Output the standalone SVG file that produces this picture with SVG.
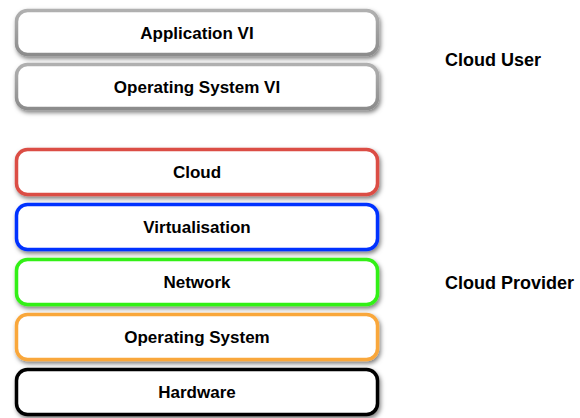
<svg xmlns="http://www.w3.org/2000/svg" width="580" height="418" viewBox="0 0 580 418">
<defs>
<filter id="sh" x="-5%" y="-20%" width="115%" height="150%">
<feDropShadow dx="1.5" dy="2.5" stdDeviation="2" flood-color="#000" flood-opacity="0.5"/>
</filter>
<linearGradient id="gg" x1="0" y1="0" x2="0" y2="1">
<stop offset="0" stop-color="#b0b0b0"/>
<stop offset="1" stop-color="#8c8c8c"/>
</linearGradient>
</defs>
<style>
rect.b{fill:#fff;stroke-width:3.5;filter:url(#sh)}
text{font-family:"Liberation Sans",Arial,sans-serif;font-weight:bold;fill:#000}
text.l{font-size:17px;text-anchor:middle}
text.s{font-size:18px}
</style>
<rect width="580" height="418" fill="#fff"/>
<g id="app-vi"><rect class="b" x="16.5" y="10.5" width="361" height="44" rx="11" stroke="url(#gg)"/><text class="l" x="197" y="39">Application VI</text></g>
<g id="os-vi"><rect class="b" x="16.5" y="64.5" width="361" height="44" rx="11" stroke="url(#gg)"/><text class="l" x="197" y="93">Operating System VI</text></g>
<g id="cloud"><rect class="b" x="16.5" y="149.5" width="361" height="45" rx="11" stroke="#db4d45"/><text class="l" x="197" y="178">Cloud</text></g>
<g id="virtualisation"><rect class="b" x="16.5" y="204.5" width="361" height="45" rx="11" stroke="#0433ff"/><text class="l" x="197" y="233">Virtualisation</text></g>
<g id="network"><rect class="b" x="16.5" y="259.5" width="361" height="45" rx="11" stroke="#33f016"/><text class="l" x="197" y="288">Network</text></g>
<g id="os"><rect class="b" x="16.5" y="314.5" width="361" height="45" rx="11" stroke="#f9a73b"/><text class="l" x="197" y="343">Operating System</text></g>
<g id="hardware"><rect class="b" x="16.5" y="369.5" width="361" height="45" rx="11" stroke="#000"/><text class="l" x="197" y="398">Hardware</text></g>
<g id="cloud-user"><text class="s" x="445" y="66">Cloud User</text></g>
<g id="cloud-provider"><text class="s" x="445" y="289">Cloud Provider</text></g>
<g id="connectors"></g>
</svg>
